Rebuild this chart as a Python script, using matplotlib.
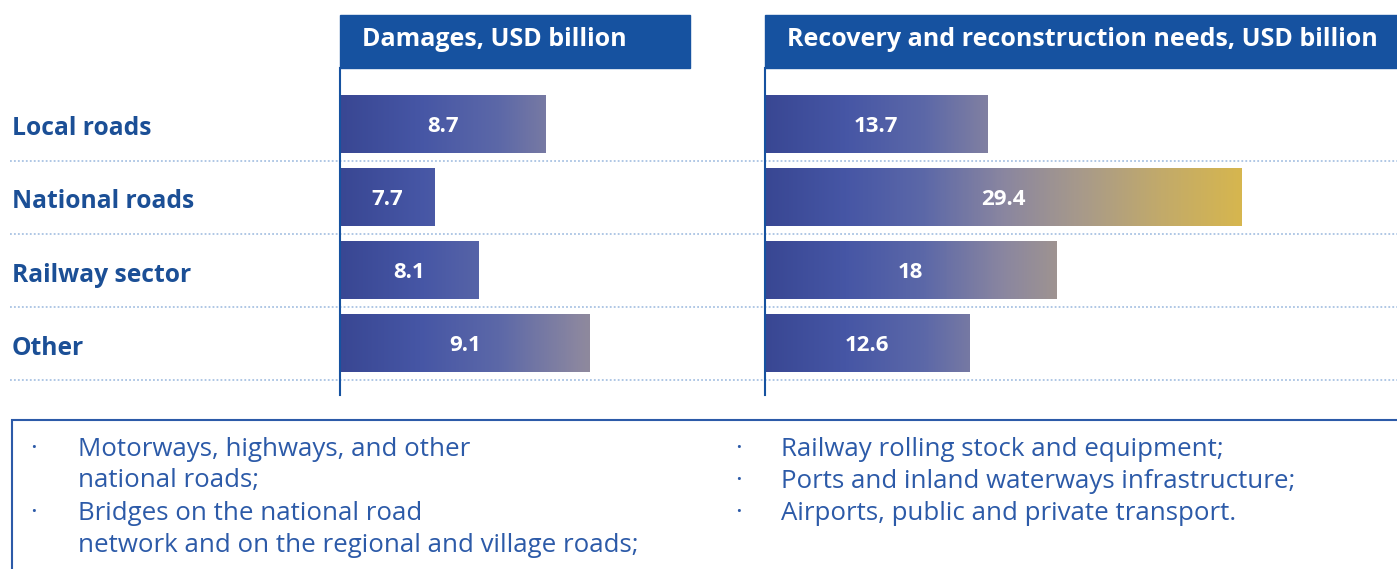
import numpy as np
import matplotlib.pyplot as plt
from matplotlib.colors import LinearSegmentedColormap
from matplotlib.patches import Rectangle

categories = ["Local roads", "National roads", "Railway sector", "Other"]
damages = [8.7, 7.7, 8.1, 9.1]
needs = [13.7, 29.4, 18, 12.6]
titles = ["Damages, USD billion", "Recovery and reconstruction needs, USD billion"]

notes_left = [
    ("·", "Motorways, highways, and other"),
    ("", "national roads;"),
    ("·", "Bridges on the national road"),
    ("", "network and on the regional and village roads;"),
]
notes_right = [
    ("·", "Railway rolling stock and equipment;"),
    ("·", "Ports and inland waterways infrastructure;"),
    ("·", "Airports, public and private transport."),
]

plt.rcParams['font.family'] = ['Open Sans', 'DejaVu Sans']

W, H = 1397, 569
BLUE = "#1652a0"
TEXT = "#1b4f96"
NOTE = "#2c5aa8"

grad = LinearSegmentedColormap.from_list(
    "bar", ["#394793", "#4656a5", "#5c68a8", "#8a86a0", "#a89a8a", "#c2aa6a", "#d6b64f"])


def fx(px):
    return px / W


def fy(py):
    return 1 - py / H


fig = plt.figure(figsize=(W / 100, H / 100), dpi=100)

top, bottom = 68, 395
ylim = (3.7, -0.77)

# full-width layer for row labels and dotted separators
bg = fig.add_axes([0, fy(bottom), 1, (bottom - top) / H], zorder=0)
bg.set_xlim(0, 1)
bg.set_ylim(*ylim)
bg.axis("off")
for i, cat in enumerate(categories):
    bg.text(fx(12), i + 0.06, cat, va="center", ha="left", fontsize=17.7,
            fontweight="bold", color=TEXT)
bg.hlines(np.arange(len(categories)) + 0.5, fx(10), 1, colors="#a9c3e3",
          linewidth=1.3, linestyles=(0, (1, 1.2)))

panels = [
    (340, 690, damages, (6.85, 10.0)),
    (765, 1397, needs, (0, 39)),
]

axes = []
for left, right, vals, xl in panels:
    ax = fig.add_axes([fx(left), fy(bottom), (right - left) / W, (bottom - top) / H], zorder=1)
    ax.set_xlim(*xl)
    ax.set_ylim(*ylim)
    ax.patch.set_visible(False)
    for s in ["top", "right", "bottom"]:
        ax.spines[s].set_visible(False)
    ax.spines["left"].set_color(BLUE)
    ax.spines["left"].set_linewidth(1.5)
    ax.set_xticks([])
    ax.set_yticks([])
    axes.append(ax)

# gradient length is measured in pixels so both panels share one colour ramp
lengths = []
for ax, (_, _, vals, xl) in zip(axes, panels):
    x0 = ax.transData.transform((xl[0], 0))[0]
    lengths.append([ax.transData.transform((v, 0))[0] - x0 for v in vals])
longest = max(max(l) for l in lengths)

h = 0.78
for ax, (_, _, vals, xl), lens in zip(axes, panels, lengths):
    for i, (v, L) in enumerate(zip(vals, lens)):
        g = np.linspace(0, L / longest, 300)[None, :]
        ax.imshow(g, extent=[xl[0], v, i + h / 2, i - h / 2], aspect="auto",
                  cmap=grad, vmin=0, vmax=1, interpolation="bilinear")
        ax.text((xl[0] + v) / 2, i + 0.03, f"{v:g}", ha="center", va="center",
                color="white", fontsize=16, fontweight="bold")
    ax.set_xlim(*xl)
    ax.set_ylim(*ylim)

# header boxes
for (left, right, _, _), title in zip(panels, titles):
    fig.add_artist(Rectangle((fx(left), fy(68)), (right - left) / W, 53 / H,
                             transform=fig.transFigure, color=BLUE, zorder=2))
    fig.text(fx(left + 22), fy(40), title, ha="left", va="center", color="white",
             fontsize=18, fontweight="bold", zorder=3)

# notes box
fig.add_artist(Rectangle((fx(12), -0.05), 1.0, fy(420) + 0.05, transform=fig.transFigure,
                         fill=False, edgecolor=NOTE, linewidth=1.5, zorder=2))
for (bx, tx), notes in [((30, 78), notes_left), ((735, 781), notes_right)]:
    for k, (b, t) in enumerate(notes):
        y = fy(449 + 32 * k)
        if b:
            fig.text(fx(bx), y, b, ha="left", va="center", color=NOTE, fontsize=18.6)
        fig.text(fx(tx), y, t, ha="left", va="center", color=NOTE, fontsize=18.6)

fig.savefig("out.png", dpi=100)
